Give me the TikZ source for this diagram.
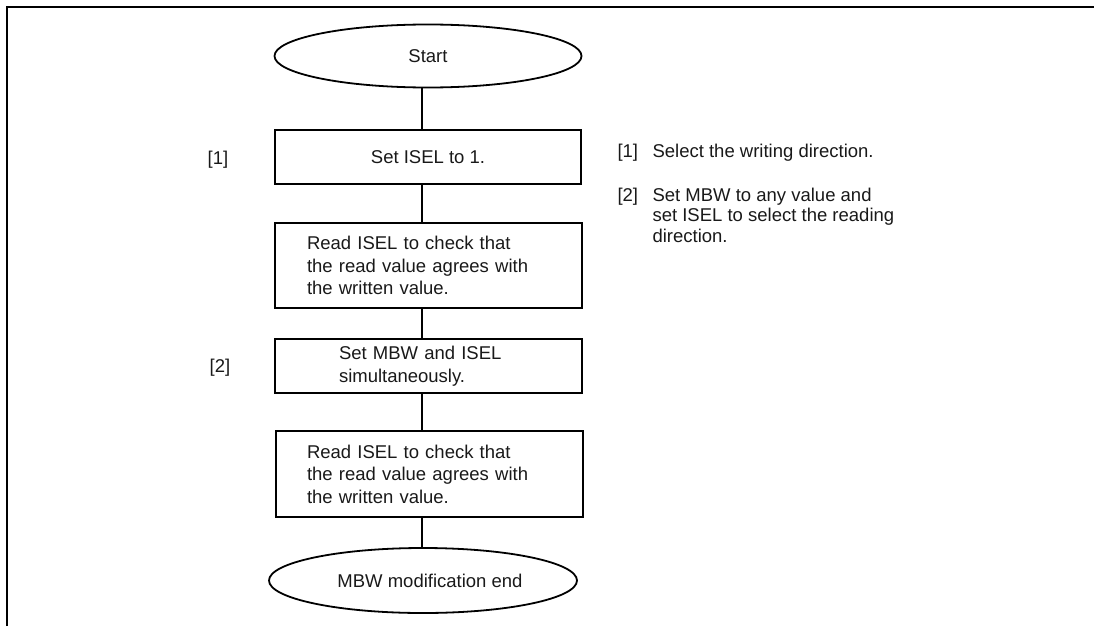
\documentclass[tikz,border=0pt]{standalone}
\usepackage{fontspec}
\setmainfont{Liberation Sans}
\usetikzlibrary{shapes.geometric}
\begin{document}
\begin{tikzpicture}[x=1pt,y=-1pt,
  every node/.style={font=\fontsize{18.5}{22.5}\selectfont, text=black!90},
  term/.style={ellipse, draw, line width=1.8pt, inner sep=0pt},
  procbox/.style={rectangle, draw, line width=1.8pt, inner ysep=0pt, align=left},
  conn/.style={line width=1.8pt},
  note/.style={anchor=base west, align=left, font=\fontsize{18.5}{20.5}\selectfont}]
\useasboundingbox (0,0) rectangle (1094,626);
\draw[line width=2.8pt] (7,626) -- (7,7) -- (1094,7);
\coordinate (spine) at (422,0);
\node[term, minimum width=307pt, minimum height=63pt] (start) at (428,56) {Start};
\node[procbox, minimum width=306pt, minimum height=54pt, align=center] (b1) at (428,157) {Set ISEL to 1.};
\node[procbox, minimum height=85pt, inner xsep=32pt, text width=243pt] (b2) at (428.5,265.5)
  {Read ISEL to check that\\the read value agrees with\\the written value.};
\node[procbox, minimum height=54pt, inner xsep=64pt, text width=179pt] (b3) at (428.5,366)
  {Set MBW and ISEL\\simultaneously.};
\node[procbox, minimum height=86pt, inner xsep=31pt, text width=245pt] (b4) at (429.5,474)
  {Read ISEL to check that\\the read value agrees with\\the written value.};
\node[term, minimum width=308pt, minimum height=65pt] (end) at (423,580.5) {\hspace*{14pt}MBW modification end};
\draw[conn] (start.south -| spine) -- (b1.north -| spine);
\draw[conn] (b1.south -| spine) -- (b2.north -| spine);
\draw[conn] (b2.south -| spine) -- (b3.north -| spine);
\draw[conn] (b3.south -| spine) -- (b4.north -| spine);
\draw[conn] (b4.south -| spine) -- (end.north -| spine);
\node (l1) at (218,160) {[1]};
\node (l2) at (220,368) {[2]};
\node[note] (n1k) at (614,157) {[1]};
\node[note] (n1) at (649,157) {Select the writing direction.};
\node[note] (n2k) at (614,201) {[2]};
\node[note] (n2) at (649,242) {Set MBW to any value and\\set ISEL to select the reading\\direction.};
\end{tikzpicture}
\end{document}
